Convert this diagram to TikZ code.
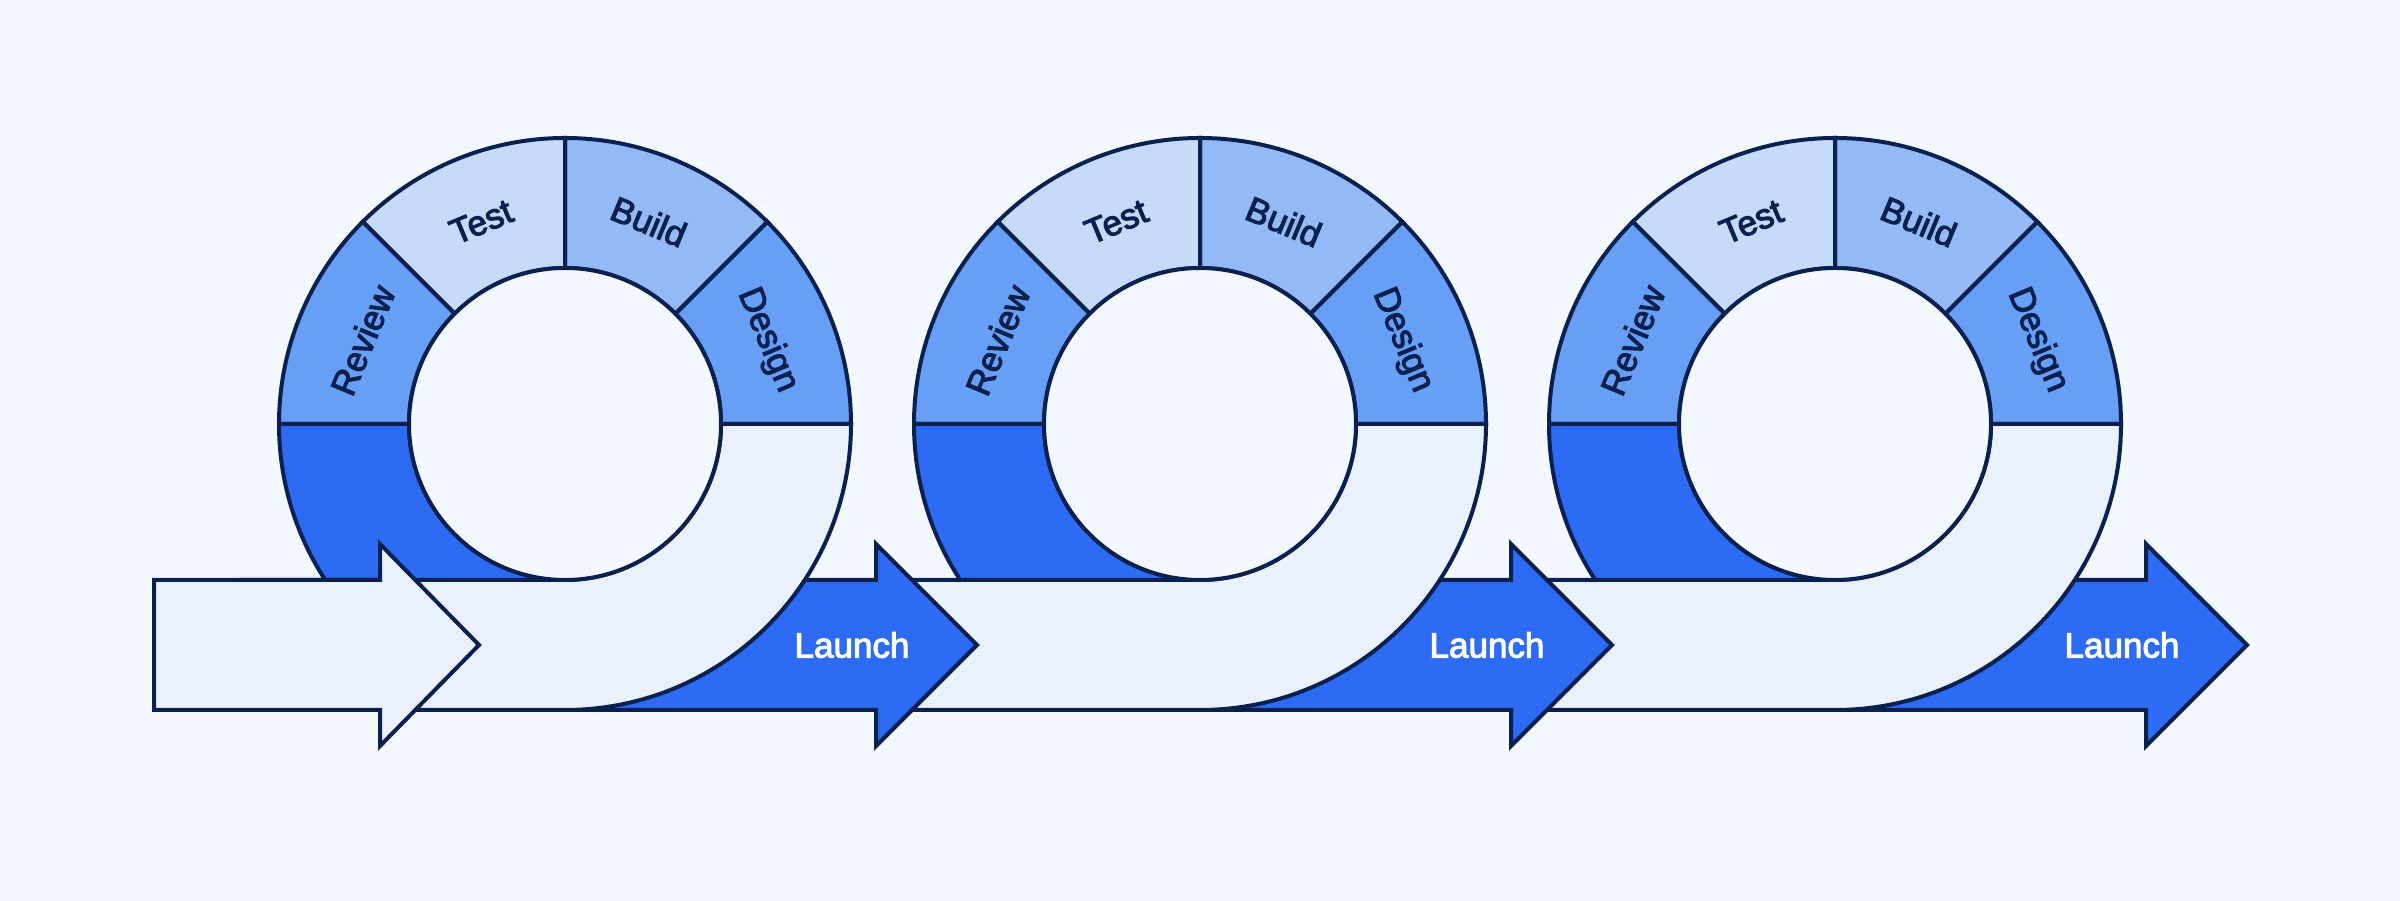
\documentclass[tikz,border=0pt]{standalone}
\usepackage{fontspec}
\setmainfont{Liberation Sans}
\newfontfamily\lblfont{Liberation Sans}[FakeBold=3]
\definecolor{bgc}{HTML}{F3F8FE}
\definecolor{navy}{HTML}{0A2150}
\definecolor{cdesign}{HTML}{689FF6}
\definecolor{cbuild}{HTML}{94BAF5}
\definecolor{ctest}{HTML}{C6DBFA}
\definecolor{cdark}{HTML}{2D6BF5}
\definecolor{cpale}{HTML}{EAF1FC}
\tikzset{
  seg/.style={draw=navy, line width=4pt},
  launcharrow/.style={seg, fill=cdark},
  startarrow/.style={seg, fill=cpale},
  lbl/.style={font=\lblfont\fontsize{35}{35}\selectfont, text=navy, inner sep=0pt},
  launchlbl/.style={font=\lblfont\fontsize{35}{35}\selectfont, text=white, inner sep=0pt},
}
\begin{document}
\begin{tikzpicture}[x=1pt,y=1pt]
\fill[bgc] (0,0) rectangle (2400,901);
\useasboundingbox (0,0) rectangle (2400,901);
\def\R{286}
\def\r{156}
\foreach \i/\cx in {3/1835,2/1200,1/565}{
 \begin{scope}[shift={(\cx,477)}]
  % launch arrow
  \draw[launcharrow] (0,-156) -- (311,-156) -- (311,-120) -- (412,-221) -- (311,-322) -- (311,-286) -- (0,-286) -- cycle;
  % top segments
  \draw[seg, fill=cdesign] (0:\R) arc[start angle=0,end angle=45,radius=\R] -- (45:\r) arc[start angle=45,end angle=0,radius=\r] -- cycle;
  \draw[seg, fill=cbuild] (45:\R) arc[start angle=45,end angle=90,radius=\R] -- (90:\r) arc[start angle=90,end angle=45,radius=\r] -- cycle;
  \draw[seg, fill=ctest] (90:\R) arc[start angle=90,end angle=135,radius=\R] -- (135:\r) arc[start angle=135,end angle=90,radius=\r] -- cycle;
  \draw[seg, fill=cdesign] (135:\R) arc[start angle=135,end angle=180,radius=\R] -- (180:\r) arc[start angle=180,end angle=135,radius=\r] -- cycle;
  % dark quadrant
  \draw[seg, fill=cdark] (180:\R) arc[start angle=180,end angle=270,radius=\R] -- (270:\r) arc[start angle=270,end angle=180,radius=\r] -- cycle;
  % pale band
  \draw[seg, fill=cpale] (\r,0) -- (\R,0) arc[start angle=0,end angle=-90,radius=\R] -- (-324,-\R) -- (-324,-\r) -- (0,-\r) arc[start angle=-90,end angle=0,radius=\r] -- cycle;
  % inner disk
  \draw[seg, fill=bgc] (0,0) circle[radius=\r];
  % labels
  \node[lbl, rotate=-67.5] (design\i) at (22.5:219) {Design};
  \node[lbl, rotate=-22.5] (build\i) at (67.5:219) {Build};
  \node[lbl, rotate=22.5] (test\i) at (112.5:219) {Test};
  \node[lbl, rotate=67.5] (review\i) at (157.5:219) {Review};
  \node[launchlbl] (launch\i) at (287,-221) {Launch};
 \end{scope}
}
% start arrow
\draw[startarrow] (154,321) -- (380,321) -- (380,357) -- (479,256) -- (380,155) -- (380,191) -- (154,191) -- cycle;
\end{tikzpicture}
\end{document}
